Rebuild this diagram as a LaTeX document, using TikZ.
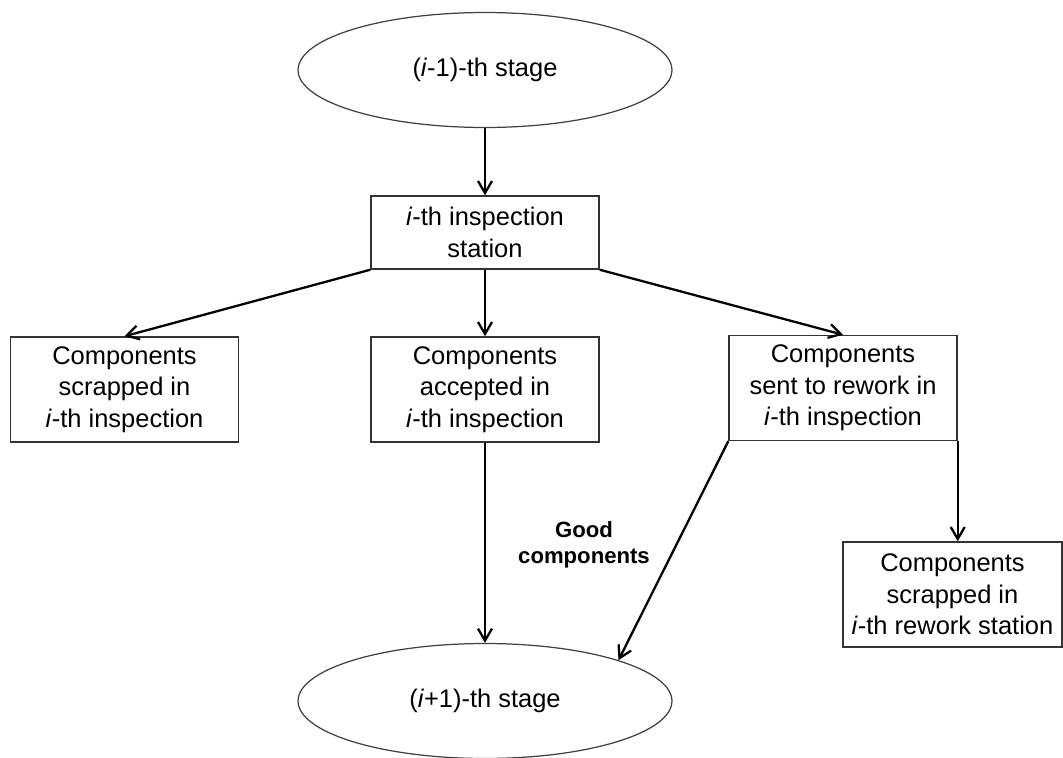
\documentclass[tikz,border=0pt]{standalone}
\usepackage{fontspec}
\setmainfont{Liberation Sans}
\usepackage{tikz}
\usetikzlibrary{shapes.geometric}
\usetikzlibrary{arrows.meta}
\newcommand{\ith}{\textit{i}-th}
\tikzset{
  stage/.style={ellipse, draw=black!75, line width=0.7pt, minimum width=7.48cm, minimum height=2.3cm, inner sep=0pt},
  station/.style={rectangle, draw=black!80, line width=0.85pt, align=center, minimum width=4.56cm, minimum height=2.1cm, inner sep=0pt},
  flow/.style={-{Straight Barb[length=2.4mm,width=2.8mm]}, line width=1.3pt},
}

\begin{document}
\begin{tikzpicture}[x=0.02cm, y=-0.02cm, font=\fontsize{14.5}{18}\selectfont]
    \useasboundingbox (0,0) rectangle (1063,758);
    % stages
    \node[stage] (prev) at (485,70) {(\textit{i}-1)-th stage};
    \node[stage] (next) at (485,701) {(\textit{i}+1)-th stage};
    % inspection
    \node[station, minimum height=1.46cm] (insp) at (485,232.5) {\ith{} inspection\\station};
    % row 1
    \node[station] (scrap) at (124.5,389.5) {Components\\scrapped in\\\ith{} inspection};
    \node[station] (accept) at (485,389.5) {Components\\accepted in\\\ith{} inspection};
    \node[station] (rework) at (843,388) {Components\\sent to rework in\\\ith{} inspection};
    % row 2
    \node[station, minimum width=4.38cm] (rescrap) at (952.5,594.5) {Components\\scrapped in\\\ith{} rework station};
    \node[font=\bfseries\fontsize{12.6}{14.8}\selectfont, align=center] (good) at (584,545) {Good\\components};
    % arrows
    \draw[flow] (prev) -- (insp);
    \draw[flow] (insp.south west) -- (scrap.north);
    \draw[flow] (insp) -- (accept);
    \draw[flow] (insp.south east) -- (rework.north);
    \draw[flow] (accept) -- (next);
    \draw[flow] (rework.south west) -- (next.17);
    \draw[flow] (rework.south east) -- (rework.south east |- rescrap.north);
\end{tikzpicture}
\end{document}
